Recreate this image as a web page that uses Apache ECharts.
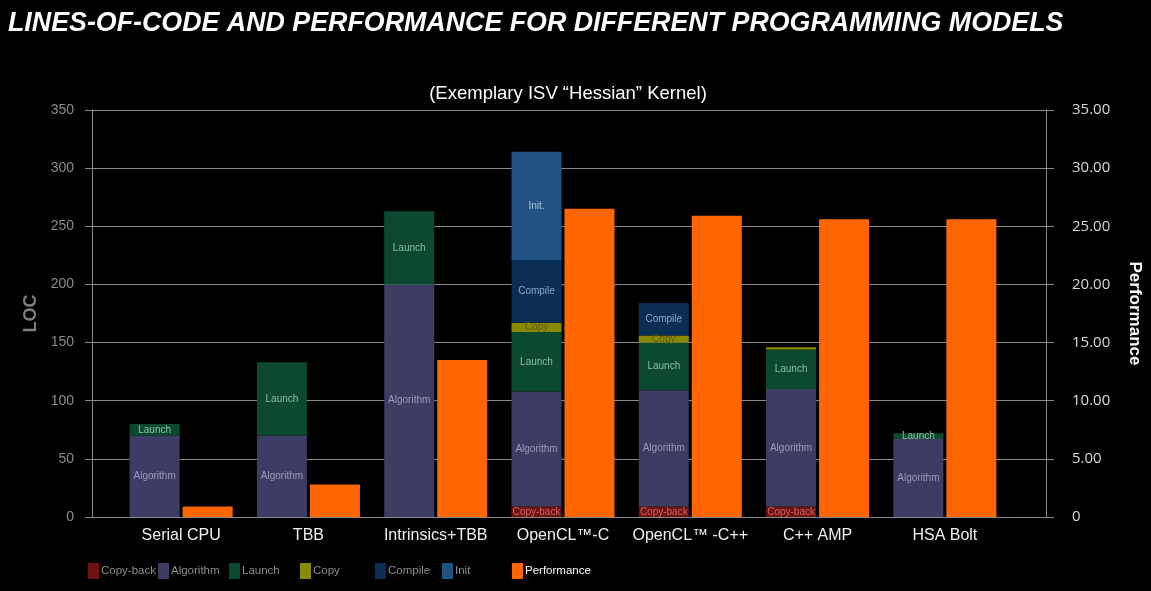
<!DOCTYPE html>
<html>
<head>
<meta charset="utf-8">
<script src="https://cdn.jsdelivr.net/npm/echarts@6/dist/echarts.min.js"></script>
<style>
html,body{margin:0;padding:0;background:#000;}
#chart{width:1151px;height:591px;}
</style>
</head>
<body>
<div id="chart"></div>
<script>
const categories = ['Serial CPU', 'TBB', 'Intrinsics+TBB', 'OpenCL\u2122-C', 'OpenCL\u2122 -C++', 'C++ AMP', 'HSA Bolt'];
const copyBack   = [0, 0, 0, 9, 9, 9, 0];
const algorithm  = [70, 70, 200, 99, 100, 101, 67];
const launch     = [10, 63, 63, 51, 41, 34, 5];
const copy       = [0, 0, 0, 8, 6, 2, 0];
const compile    = [0, 0, 0, 54, 28, 0, 0];
const init       = [0, 0, 0, 93, 0, 0, 0];
const performance = [0.9, 2.8, 13.5, 26.5, 25.9, 25.6, 25.6];
const locTickLabels  = ['0', '50', '100', '150', '200', '250', '300', '350'];
const perfTickLabels = ['0', '5.00', '10.00', '15.00', '20.00', '25.00', '30.00', '35.00'];

const chart = echarts.init(document.getElementById('chart'));

function stackSeries(name, data, color, labelText, labelColor) {
  return {
    name: name,
    type: 'bar',
    stack: 'loc',
    xAxisIndex: 1,
    yAxisIndex: 2,
    barWidth: 50,
    barGap: '6%',
    itemStyle: { color: color },
    data: data.map(v => ({
      value: v,
      label: { show: v >= 3 }
    })),
    label: {
      position: 'inside',
      formatter: labelText,
      color: labelColor,
      fontSize: 10,
      fontFamily: 'Liberation Sans, Arial, sans-serif'
    },
    emphasis: { disabled: true }
  };
}

function legendAt(name, left, textColor) {
  return {
    data: [name],
    left: left,
    top: 563,
    icon: 'rect',
    itemWidth: 11,
    itemHeight: 16,
    padding: 0,
    textStyle: { color: textColor, fontSize: 11.5, fontFamily: 'Liberation Sans Narrow, Arial Narrow, Liberation Sans, sans-serif', padding: [0, 0, 0, -3] },
    selectedMode: false
  };
}

const option = {
  backgroundColor: '#000000',
  animation: false,
  title: [
    {
      text: 'LINES-OF-CODE AND PERFORMANCE FOR DIFFERENT PROGRAMMING MODELS',
      left: 3, top: 5,
      textStyle: { color: '#ffffff', fontSize: 26.8, fontWeight: 'bold', fontStyle: 'italic', fontFamily: 'Liberation Sans, Arial, sans-serif' }
    },
    {
      text: '(Exemplary ISV \u201CHessian\u201D Kernel)',
      left: 563, top: 79, textAlign: 'center',
      textStyle: { color: '#ffffff', fontSize: 18.5, fontWeight: 'normal', fontFamily: 'Liberation Sans, Arial, sans-serif' }
    }
  ],
  legend: [
    legendAt('Copy-back', 88, '#8c8c8c'),
    legendAt('Algorithm', 158, '#8c8c8c'),
    legendAt('Launch', 229, '#8c8c8c'),
    legendAt('Copy', 300, '#8c8c8c'),
    legendAt('Compile', 375, '#8c8c8c'),
    legendAt('Init', 442, '#8c8c8c'),
    legendAt('Performance', 512, '#ffffff')
  ],
  grid: [
    { left: 92, right: 100, top: 110, bottom: 74 },
    { left: 117.5, right: 142.5, top: 110, bottom: 74 }
  ],
  xAxis: [
    {
      type: 'category', gridIndex: 0, data: categories,
      axisLine: { show: true, lineStyle: { color: '#8a8a8a' } },
      axisTick: { show: false }, axisLabel: { show: false }
    },
    {
      type: 'category', gridIndex: 1, data: categories,
      axisLine: { show: false }, axisTick: { show: false },
      axisLabel: { interval: 0, color: '#f0f0f0', fontSize: 16, margin: 11, fontFamily: 'Liberation Sans, Arial, sans-serif' }
    }
  ],
  yAxis: [
    {
      type: 'value', gridIndex: 0, position: 'left', min: 0, max: 350, interval: 50,
      name: 'LOC', nameLocation: 'middle', nameGap: 47, nameRotate: 90,
      nameTextStyle: { color: '#7f7f7f', fontSize: 18, fontWeight: 'bold', fontFamily: 'Liberation Sans, Arial, sans-serif' },
      axisLine: { show: true, lineStyle: { color: '#8a8a8a' } },
      axisTick: { show: true, length: 7, lineStyle: { color: '#8a8a8a' } },
      axisLabel: { color: '#8c8c8c', fontSize: 14, margin: 18, fontFamily: 'Liberation Sans, Arial, sans-serif',
        formatter: (v) => locTickLabels[Math.round(v / 50)] },
      splitLine: { show: true, lineStyle: { color: '#8a8a8a', width: 1 } }
    },
    {
      type: 'value', gridIndex: 0, position: 'right', min: 0, max: 35, interval: 5,
      name: 'Performance', nameLocation: 'middle', nameGap: 80, nameRotate: -90,
      nameTextStyle: { color: '#ffffff', fontSize: 17, fontWeight: 'bold', fontFamily: 'Liberation Sans Narrow, Arial Narrow, sans-serif' },
      axisLine: { show: true, lineStyle: { color: '#8a8a8a' } },
      axisTick: { show: true, length: 8, lineStyle: { color: '#8a8a8a' } },
      axisLabel: { color: '#d9d9d9', fontSize: 15, margin: 26, fontFamily: 'Open Sans, Liberation Sans, sans-serif',
        formatter: (v) => perfTickLabels[Math.round(v / 5)] },
      splitLine: { show: false }
    },
    { type: 'value', gridIndex: 1, min: 0, max: 350, interval: 50, show: false },
    { type: 'value', gridIndex: 1, min: 0, max: 35, interval: 5, show: false }
  ],
  series: [
    stackSeries('Copy-back', copyBack, '#6e1212', 'Copy-back', '#d46060'),
    stackSeries('Algorithm', algorithm, '#3d3d63', 'Algorithm', '#9a9abb'),
    stackSeries('Launch', launch, '#0b4a30', 'Launch', '#8cbcaa'),
    stackSeries('Copy', copy, '#8a8a00', 'Copy', '#5a5a00'),
    stackSeries('Compile', compile, '#0a2e55', 'Compile', '#8aa8cc'),
    stackSeries('Init', init, '#225282', 'Init.', '#a8c0da'),
    {
      name: 'Performance', type: 'bar', xAxisIndex: 1, yAxisIndex: 3,
      barWidth: 50, barGap: '6%',
      itemStyle: { color: '#ff6600' },
      data: performance,
      emphasis: { disabled: true }
    }
  ]
};
chart.setOption(option);
</script>
</body>
</html>
